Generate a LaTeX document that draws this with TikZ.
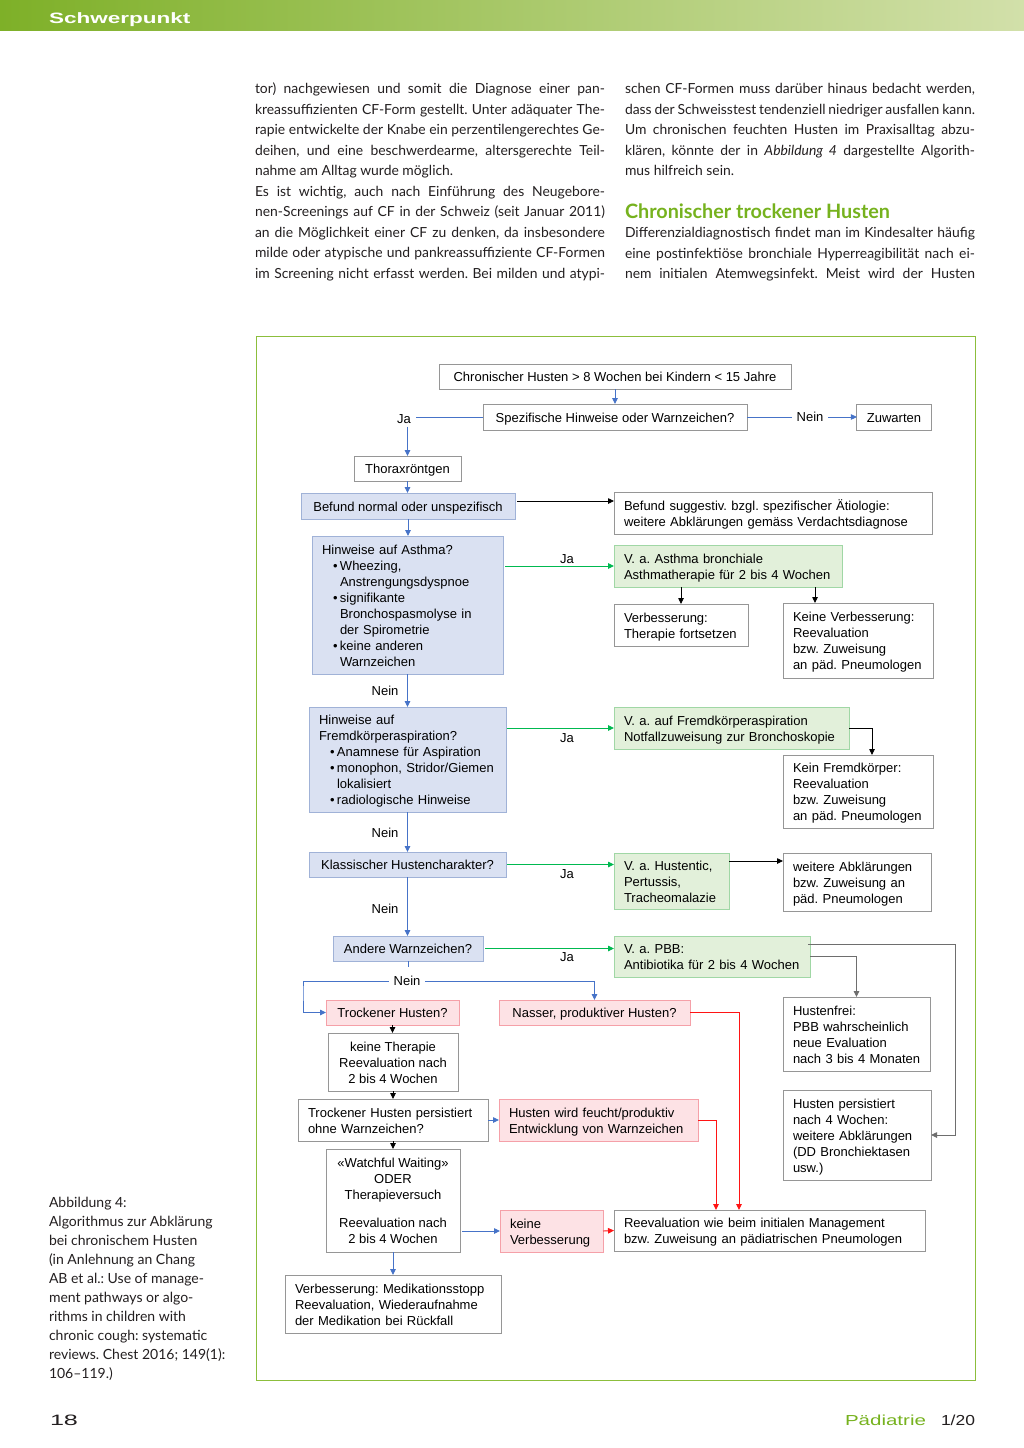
\documentclass[tikz,border=0pt]{standalone}
\usepackage{fontspec}
\usepackage{graphicx}
\setmainfont{Lato}
\newfontfamily\arial{Liberation Sans}
\usetikzlibrary{arrows.meta,calc}
\definecolor{barL}{RGB}{126,176,40}
\definecolor{barR}{RGB}{210,224,170}
\definecolor{frameg}{RGB}{140,190,60}
\definecolor{headg}{RGB}{118,178,30}
\definecolor{bfill}{RGB}{218,225,242}
\definecolor{bdraw}{RGB}{160,178,215}
\definecolor{gfill}{RGB}{226,240,218}
\definecolor{gdraw}{RGB}{160,215,165}
\definecolor{rfill}{RGB}{253,226,229}
\definecolor{rdraw}{RGB}{245,160,168}
\definecolor{boxgray}{RGB}{150,150,150}
\definecolor{bline}{RGB}{70,115,200}
\definecolor{gline}{RGB}{0,185,80}
\definecolor{rline}{RGB}{255,20,20}
\definecolor{gyline}{RGB}{110,110,110}
\definecolor{bodytext}{RGB}{35,31,32}
\newcommand\dgbul{\hspace*{11pt}\makebox[7pt][l]{\textbullet}}
\newcommand\dgind{\hspace*{18pt}}
\newcommand\dgL[1]{\raisebox{-1.8pt}[\height][\depth]{\begin{tabular}{@{}l@{}}#1\end{tabular}}}
\newcommand\dgC[1]{\raisebox{-1.8pt}[\height][\depth]{\begin{tabular}{@{}c@{}}#1\end{tabular}}}
\newcommand\bodyJ[3]{\node[body, anchor=base west] (#1) at #2 {\makebox[350pt][s]{#3}};}
\newcommand\bodyL[3]{\node[body, anchor=base west] (#1) at #2 {#3};}
\tikzset{
  every node/.style={inner sep=0pt, outer sep=0pt},
  body/.style={font=\fontsize{13.9}{17}\selectfont, text=bodytext},
  captxt/.style={font=\fontsize{14}{17}\selectfont, text=bodytext, anchor=base west},
  dg/.style={font=\arial\fontsize{13}{16}\selectfont, text=black},
  sz/.code 2 args={\pgfmathsetlengthmacro\dgtw{#1-20}\tikzset{minimum width=#1pt, minimum height=#2pt, text width=\dgtw}},
  szc/.style 2 args={minimum width=#1pt, minimum height=#2pt},
  bx/.style={dg, draw=boxgray, line width=0.9pt, fill=white, inner xsep=10pt, inner ysep=0pt, align=left},
  bxc/.style={bx, align=center},
  bfl/.style={fill=bfill, draw=bdraw},
  gfl/.style={fill=gfill, draw=gdraw},
  rfl/.style={fill=rfill, draw=rdraw},
  lbl/.style={dg, inner xsep=5pt, inner ysep=3pt},
  tip/.style={-{Triangle[length=6pt,width=5.5pt]}},
  lnB/.style={draw=bline, line width=0.9pt},
  arrB/.style={lnB, tip},
  arrG/.style={draw=gline, line width=0.9pt, tip},
  arrR/.style={draw=rline, line width=0.9pt, tip},
  arrK/.style={draw=black, line width=0.8pt, tip},
  arrY/.style={draw=gyline, line width=0.9pt, tip},
}
\begin{document}
\frenchspacing
\begin{tikzpicture}[x=1pt,y=-1pt]
\fill[white] (0,0) rectangle (1024,1448);
\useasboundingbox (0,0) rectangle (1024,1448);
% header bar
\shade[left color=barL,right color=barR] (0,0) rectangle (1024,30);
\node[anchor=base west, text=white, font=\arial\bfseries\fontsize{15}{15}\selectfont] (hdr) at (49,23.5) {\scalebox{1.5}[1]{Schwerpunkt}};
% left column
\bodyJ{l1}{(255,93.5)}{tor) nachgewiesen und somit die Diagnose einer pan-}
\bodyJ{l2}{(255,114.1)}{kreassuffizienten CF-Form gestellt. Unter adäquater The-}
\bodyJ{l3}{(255,134.6)}{rapie entwickelte der Knabe ein perzentilengerechtes Ge-}
\bodyJ{l4}{(255,155.2)}{deihen, und eine beschwerdearme, altersgerechte Teil-}
\bodyL{l5}{(255,175.7)}{nahme am Alltag wurde möglich.}
\bodyJ{l6}{(255,196.3)}{Es ist wichtig, auch nach Einführung des Neugebore-}
\bodyJ{l7}{(255,216.8)}{nen-Screenings auf CF in der Schweiz (seit Januar 2011)}
\bodyJ{l8}{(255,237.4)}{an die Möglichkeit einer CF zu denken, da insbesondere}
\bodyJ{l9}{(255,257.9)}{milde oder atypische und pankreassuffiziente CF-Formen}
\bodyJ{l10}{(255,278.5)}{im Screening nicht erfasst werden. Bei milden und atypi-}
% right column
\bodyJ{r1}{(625,93.5)}{schen CF-Formen muss darüber hinaus bedacht werden,}
\bodyJ{r2}{(625,114.1)}{dass der Schweisstest tendenziell niedriger ausfallen kann.}
\bodyJ{r3}{(625,134.6)}{Um chronischen feuchten Husten im Praxisalltag abzu-}
\bodyJ{r4}{(625,155.2)}{klären, könnte der in \textit{Abbildung 4} dargestellte Algorith-}
\bodyL{r5}{(625,175.7)}{mus hilfreich sein.}
\node[anchor=base west, text=headg, font=\bfseries\fontsize{17}{20}\selectfont] (rh) at (625,218.5) {\resizebox{265pt}{!}{Chronischer trockener Husten}};
\bodyJ{r6}{(625,237.5)}{Differenzialdiagnostisch findet man im Kindesalter häufig}
\bodyJ{r7}{(625,258)}{eine postinfektiöse bronchiale Hyperreagibilität nach ei-}
\bodyJ{r8}{(625,278.5)}{nem initialen Atemwegsinfekt. Meist wird der Husten}
% caption
\node[captxt] (c1) at (49,1207) {Abbildung 4:};
\node[captxt] (c2) at (49,1226) {Algorithmus zur Abklärung};
\node[captxt] (c3) at (49,1245) {bei chronischem Husten};
\node[captxt] (c4) at (49,1264) {(in Anlehnung an Chang};
\node[captxt] (c5) at (49,1283) {AB et al.: Use of manage-};
\node[captxt] (c6) at (49,1302) {ment pathways or algo-};
\node[captxt] (c7) at (49,1321) {rithms in children with};
\node[captxt] (c8) at (49,1340) {chronic cough: systematic};
\node[captxt] (c9) at (49,1359) {reviews. Chest 2016; 149(1):};
\node[captxt] (c10) at (49,1378) {106–119.)};
% footer
\node[anchor=base west, text=bodytext, font=\arial\fontsize{15}{15}\selectfont] (pg) at (50,1425.5) {\resizebox{28pt}{10.5pt}{18}};
\node[anchor=base west, text=headg, font=\arial\fontsize{15}{15}\selectfont] (mag) at (845,1425.5) {\resizebox{81pt}{10.5pt}{Pädiatrie}};
\node[anchor=base west, text=bodytext, font=\arial\fontsize{15}{15}\selectfont] (iss) at (941,1425.5) {\resizebox{34pt}{10.5pt}{1/20}};
% frame
\draw[frameg, line width=1pt] (256,336) rectangle (975,1380);
% ---------- diagram nodes ----------
\node[bxc, szc={352}{25}] (start) at (615,376.5) {\dgC{Chronischer Husten > 8 Wochen bei Kindern < 15 Jahre}};
\node[bxc, szc={264}{26}] (spez) at (615,417) {\dgC{Spezifische Hinweise oder Warnzeichen?}};
\node[bxc, szc={74}{26}] (zuwarten) at (894,417) {\dgC{Zuwarten}};
\node[bxc, szc={107}{25}] (thorax) at (407.5,468.5) {\dgC{Thoraxröntgen}};
\node[bxc, bfl, szc={214}{26}] (befund) at (408,506) {\dgC{Befund normal oder unspezifisch}};
\node[bx, sz={318}{42}] (sugg) at (773,513) {\dgL{Befund suggestiv. bzgl. spezifischer Ätiologie:\\weitere Abklärungen gemäss Verdachtsdiagnose}};
\node[bx, bfl, sz={191}{138}] (asthma) at (407.5,605) {\dgL{Hinweise auf Asthma?\\\dgbul Wheezing,\\\dgind Anstrengungsdyspnoe\\\dgbul signifikante\\\dgind Bronchospasmolyse in\\\dgind der Spirometrie\\\dgbul keine anderen\\\dgind Warnzeichen}};
\node[bx, gfl, sz={228}{42}] (vaasthma) at (728,566) {\dgL{V. a. Asthma bronchiale\\Asthmatherapie für 2 bis 4 Wochen}};
\node[bx, sz={134}{42}] (verb) at (681,625) {\dgL{Verbesserung:\\Therapie fortsetzen}};
\node[bx, sz={150}{75}] (keinverb) at (858,640.5) {\dgL{Keine Verbesserung:\\Reevaluation\\bzw. Zuweisung\\an päd. Pneumologen}};
\node[bx, bfl, sz={197}{105}] (fremd) at (407.5,759.5) {\dgL{Hinweise auf\\Fremdkörperaspiration?\\\dgbul Anamnese für Aspiration\\\dgbul monophon, Stridor/Giemen\\\dgind lokalisiert\\\dgbul radiologische Hinweise}};
\node[bx, gfl, sz={235}{42}] (vafremd) at (731.5,728) {\dgL{V. a. auf Fremdkörperaspiration\\Notfallzuweisung zur Bronchoskopie}};
\node[bx, sz={150}{73}] (keinfremd) at (858,791.5) {\dgL{Kein Fremdkörper:\\Reevaluation\\bzw. Zuweisung\\an päd. Pneumologen}};
\node[bxc, bfl, szc={197}{25}] (klass) at (407.5,864.5) {\dgC{Klassischer Hustencharakter?}};
\node[bx, gfl, sz={115}{56}] (vahust) at (671.5,881) {\dgL{V. a. Hustentic,\\Pertussis,\\Tracheomalazie}};
\node[bx, sz={148}{58}] (weitere) at (857,882) {\dgL{weitere Abklärungen\\bzw. Zuweisung an\\päd. Pneumologen}};
\node[bxc, bfl, szc={150}{25}] (andere) at (408,948.5) {\dgC{Andere Warnzeichen?}};
\node[bx, gfl, sz={196}{41}] (vapbb) at (712,956.5) {\dgL{V. a. PBB:\\Antibiotika für 2 bis 4 Wochen}};
\node[bx, sz={147}{74}] (hustenfrei) at (856.5,1034) {\dgL{Hustenfrei:\\PBB wahrscheinlich\\neue Evaluation\\nach 3 bis 4 Monaten}};
\node[bx, sz={148}{90}] (persist) at (857,1135) {\dgL{Husten persistiert\\nach 4 Wochen:\\weitere Abklärungen\\(DD Bronchiektasen\\usw.)}};
\node[bxc, rfl, szc={133}{25}] (trocken) at (392.5,1012.5) {\dgC{Trockener Husten?}};
\node[bxc, rfl, szc={191}{25}] (nasser) at (594.5,1012.5) {\dgC{Nasser, produktiver Husten?}};
\node[bxc, szc={130}{58}] (keinether) at (393,1062) {\dgC{keine Therapie\\Reevaluation nach\\2 bis 4 Wochen}};
\node[bx, sz={190}{42}] (trpers) at (393,1120) {\dgL{Trockener Husten persistiert\\ohne Warnzeichen?}};
\node[bx, rfl, sz={199}{42}] (feucht) at (598.5,1120) {\dgL{Husten wird feucht/produktiv\\Entwicklung von Warnzeichen}};
\node[bxc, szc={134}{103}] (watch) at (393,1200.5) {\dgC{«Watchful Waiting»\\ODER\\Therapieversuch\\[12pt]Reevaluation nach\\2 bis 4 Wochen}};
\node[bx, rfl, sz={103}{42}] (keineverb2) at (551.5,1231) {\dgL{keine\\Verbesserung}};
\node[bx, sz={311}{41}] (reeval) at (769.5,1230.5) {\dgL{Reevaluation wie beim initialen Management\\bzw. Zuweisung an pädiatrischen Pneumologen}};
\node[bx, sz={216}{58}] (medstopp) at (393,1304) {\dgL{Verbesserung: Medikationsstopp\\Reevaluation, Wiederaufnahme\\der Medikation bei Rückfall}};
% labels
\node[lbl] (ja1) at (404,419) {Ja};
\node[lbl] (nein1) at (810,417) {Nein};
\node[lbl] (ja2) at (567,559) {Ja};
\node[lbl] (nein2) at (385,691) {Nein};
\node[lbl] (ja3) at (567,738) {Ja};
\node[lbl] (nein3) at (385,833) {Nein};
\node[lbl] (ja4) at (567,874) {Ja};
\node[lbl] (nein4) at (385,909) {Nein};
\node[lbl] (ja5) at (567,957) {Ja};
\node[lbl] (nein5) at (407,981) {Nein};
% helper coordinates
\coordinate (rail) at (955,944);
\coordinate (railL) at (303,990);
\coordinate (stub) at (408,967);
% ---------- connectors ----------
\draw[arrB] (start.south) -- (spez.north);
\draw[lnB] (spez.west) -- (spez.west -| ja1.east);
\draw[arrB] (thorax.north |- ja1.south) -- (thorax.north);
\draw[lnB] (spez.east) -- (nein1.west);
\draw[arrB] (nein1.east) -- (zuwarten.west);
\draw[arrB] (thorax.south) -- (thorax.south |- befund.north);
\draw[arrK] ([xshift=2pt,yshift=5pt]befund.east) -- ([yshift=5pt]befund.east -| sugg.west);
\draw[arrB] (befund.south) -- (befund.south |- asthma.north);
\draw[arrG] ([xshift=2pt]asthma.east |- vaasthma.west) -- (vaasthma.west);
\draw[arrK] (verb.north |- vaasthma.south) -- (verb.north);
\draw[arrK] ([xshift=-27pt]vaasthma.south east) -- ([xshift=-27pt]vaasthma.south east |- keinverb.north);
\draw[arrB] (asthma.south) -- (asthma.south |- fremd.north);
\draw[arrG] ([xshift=1pt]fremd.east |- vafremd.west) -- (vafremd.west);
\draw[arrK] (vafremd.east) -| ([xshift=14pt]keinfremd.north);
\draw[arrB] (fremd.south) -- (fremd.south |- klass.north);
\draw[arrG] ([xshift=1pt]klass.east) -- (klass.east -| vahust.west);
\draw[arrK] ([yshift=20pt]vahust.east) -- ([yshift=20pt]vahust.east -| weitere.west);
\draw[arrB] (klass.south) -- (klass.south |- andere.north);
\draw[arrG] ([xshift=2pt]andere.east) -- (andere.east -| vapbb.west);
\draw[arrY] ([xshift=-2pt,yshift=-8pt]vapbb.north east) -- (rail) |- (persist.east);
\draw[arrY] (vapbb.east) -| (hustenfrei.north);
\draw[lnB] (andere.south) -- (stub);
\draw[arrB] (nein5.west) -| (railL) |- (trocken.west);
\draw[arrB] (nein5.east) -| (nasser.north);
\draw[arrR] (nasser.east) -| ([xshift=-30.5pt]reeval.north);
\draw[arrK] (trocken.south) -- (trocken.south |- keinether.north);
\draw[arrK] (keinether.south) -- (keinether.south |- trpers.north);
\draw[arrB] (trpers.east) -- (feucht.west);
\draw[arrR] (feucht.east) -| ([xshift=-53.5pt]reeval.north);
\draw[arrK] (trpers.south) -- (trpers.south |- watch.north);
\draw[arrB] ([xshift=2pt]watch.east |- keineverb2.west) -- (keineverb2.west);
\draw[arrR] (keineverb2.east) -- (reeval.west);
\draw[arrB] (watch.south) -- (watch.south |- medstopp.north);
\end{tikzpicture}
\end{document}
